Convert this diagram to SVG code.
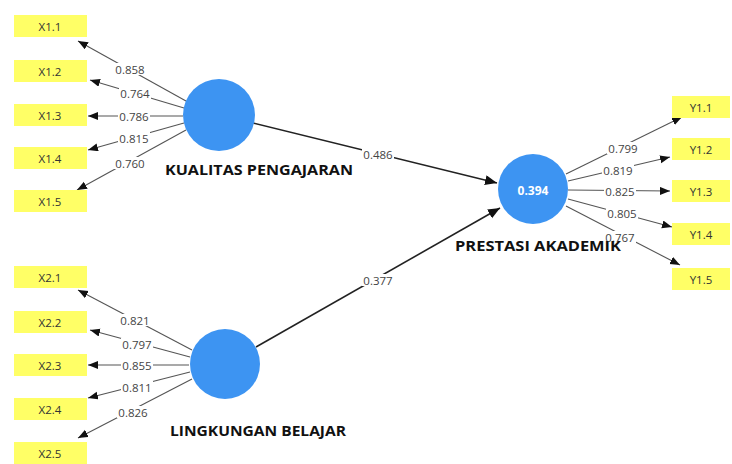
<svg xmlns="http://www.w3.org/2000/svg" width="732" height="464" viewBox="0 0 732 464">
<style>
.ind rect{fill:#ffff66;}
.ind text{font-family:"Open Sans","Liberation Sans",sans-serif;font-size:11.5px;fill:#333;text-anchor:middle;dominant-baseline:central;}
.lv circle{fill:#3d94f2;}
.lvname{font-family:"Open Sans","Liberation Sans",sans-serif;font-size:14.5px;font-weight:700;fill:#111;}
.r2{font-family:"Open Sans","Liberation Sans",sans-serif;font-size:12px;font-weight:700;fill:#fff;text-anchor:middle;dominant-baseline:central;}
.ol{stroke:#555;stroke-width:1.1;fill:none;marker-end:url(#ah);}
.sp{stroke:#222;stroke-width:1.6;fill:none;marker-end:url(#ah2);}
.bg{fill:#fff;}
.lbl{font-family:"Open Sans","Liberation Sans",sans-serif;font-size:11.5px;fill:#444;text-anchor:middle;dominant-baseline:central;}
</style>
<defs>
<marker id="ah" markerUnits="userSpaceOnUse" markerWidth="12" markerHeight="10" refX="10" refY="4" orient="auto"><path d="M0,0 L10,4 L0,8 Z" fill="#111"/></marker>
<marker id="ah2" markerUnits="userSpaceOnUse" markerWidth="14" markerHeight="12" refX="12" refY="5" orient="auto"><path d="M0,0 L12,5 L0,10 Z" fill="#111"/></marker>
</defs>
<rect width="732" height="464" fill="#fff"/>

<g id="connectors">
<line class="ol" x1="186" y1="101" x2="78" y2="41"/>
<line class="ol" x1="184" y1="108" x2="90" y2="80"/>
<line class="ol" x1="183" y1="116" x2="88" y2="116"/>
<line class="ol" x1="184" y1="123" x2="88" y2="150"/>
<line class="ol" x1="186" y1="130" x2="77" y2="190"/>
<line class="ol" x1="192" y1="350" x2="78" y2="290"/>
<line class="ol" x1="190" y1="357" x2="90" y2="330"/>
<line class="ol" x1="189" y1="365" x2="88" y2="365"/>
<line class="ol" x1="190" y1="372" x2="88" y2="398"/>
<line class="ol" x1="192" y1="379" x2="78" y2="438"/>
<line class="ol" x1="566" y1="174" x2="682" y2="117"/>
<line class="ol" x1="568" y1="181" x2="670" y2="157"/>
<line class="ol" x1="568" y1="190" x2="670" y2="191"/>
<line class="ol" x1="568" y1="199" x2="672" y2="227"/>
<line class="ol" x1="566" y1="206" x2="680" y2="265"/>
<line class="sp" x1="253" y1="123" x2="497" y2="183"/>
<line class="sp" x1="256" y1="347" x2="500" y2="208"/>
<g class="bg">
<rect x="114" y="63" width="32" height="12"/>
<rect x="119" y="87" width="32" height="12"/>
<rect x="118" y="110" width="32" height="12"/>
<rect x="118" y="132" width="32" height="12"/>
<rect x="114" y="157" width="32" height="12"/>
<rect x="119" y="314" width="32" height="12"/>
<rect x="121" y="338" width="32" height="12"/>
<rect x="121" y="359" width="32" height="12"/>
<rect x="121" y="381" width="32" height="12"/>
<rect x="117" y="406" width="32" height="12"/>
<rect x="607" y="142" width="32" height="12"/>
<rect x="602" y="164" width="32" height="12"/>
<rect x="604" y="185" width="32" height="12"/>
<rect x="606" y="207" width="32" height="12"/>
<rect x="604" y="231" width="32" height="12"/>
<rect x="362" y="148" width="32" height="12"/>
<rect x="362" y="274" width="32" height="12"/>
</g>
<text class="lbl" x="130" y="69">0.858</text>
<text class="lbl" x="135" y="93">0.764</text>
<text class="lbl" x="134" y="116">0.786</text>
<text class="lbl" x="134" y="138">0.815</text>
<text class="lbl" x="130" y="163">0.760</text>
<text class="lbl" x="135" y="320">0.821</text>
<text class="lbl" x="137" y="344">0.797</text>
<text class="lbl" x="137" y="365">0.855</text>
<text class="lbl" x="137" y="387">0.811</text>
<text class="lbl" x="133" y="412">0.826</text>
<text class="lbl" x="623" y="148">0.799</text>
<text class="lbl" x="618" y="170">0.819</text>
<text class="lbl" x="620" y="191">0.825</text>
<text class="lbl" x="622" y="213">0.805</text>
<text class="lbl" x="620" y="237">0.767</text>
<text class="lbl" x="378" y="154">0.486</text>
<text class="lbl" x="378" y="280">0.377</text>
</g>

<g id="lv-kualitas" class="lv"><circle cx="219" cy="115" r="36"/><text class="lvname" x="165" y="175" textLength="188" lengthAdjust="spacingAndGlyphs">KUALITAS PENGAJARAN</text></g>
<g id="lv-lingkungan" class="lv"><circle cx="225" cy="364" r="35"/><text class="lvname" x="170" y="436" textLength="176" lengthAdjust="spacingAndGlyphs">LINGKUNGAN BELAJAR</text></g>
<g id="lv-prestasi" class="lv"><circle cx="533" cy="189" r="35"/><text class="r2" x="533" y="190">0.394</text><text class="lvname" x="455" y="251" textLength="166" lengthAdjust="spacingAndGlyphs">PRESTASI AKADEMIK</text></g>

<g id="X1.1" class="ind"><rect x="14" y="15" width="73" height="22"/><text x="50" y="26">X1.1</text></g>
<g id="X1.2" class="ind"><rect x="14" y="60" width="73" height="22"/><text x="50" y="71">X1.2</text></g>
<g id="X1.3" class="ind"><rect x="14" y="104" width="73" height="22"/><text x="50" y="115">X1.3</text></g>
<g id="X1.4" class="ind"><rect x="14" y="147" width="73" height="22"/><text x="50" y="158">X1.4</text></g>
<g id="X1.5" class="ind"><rect x="14" y="190" width="73" height="22"/><text x="50" y="201">X1.5</text></g>
<g id="X2.1" class="ind"><rect x="14" y="266" width="73" height="22"/><text x="50" y="277">X2.1</text></g>
<g id="X2.2" class="ind"><rect x="14" y="311" width="73" height="22"/><text x="50" y="322">X2.2</text></g>
<g id="X2.3" class="ind"><rect x="14" y="354" width="73" height="22"/><text x="50" y="365">X2.3</text></g>
<g id="X2.4" class="ind"><rect x="14" y="398" width="73" height="22"/><text x="50" y="409">X2.4</text></g>
<g id="X2.5" class="ind"><rect x="14" y="442" width="73" height="22"/><text x="50" y="453">X2.5</text></g>
<g id="Y1.1" class="ind"><rect x="672" y="96" width="58" height="22"/><text x="701" y="107">Y1.1</text></g>
<g id="Y1.2" class="ind"><rect x="672" y="138" width="58" height="22"/><text x="701" y="149">Y1.2</text></g>
<g id="Y1.3" class="ind"><rect x="672" y="180" width="58" height="22"/><text x="701" y="191">Y1.3</text></g>
<g id="Y1.4" class="ind"><rect x="672" y="223" width="58" height="22"/><text x="701" y="234">Y1.4</text></g>
<g id="Y1.5" class="ind"><rect x="672" y="268" width="58" height="22"/><text x="701" y="279">Y1.5</text></g>
</svg>
